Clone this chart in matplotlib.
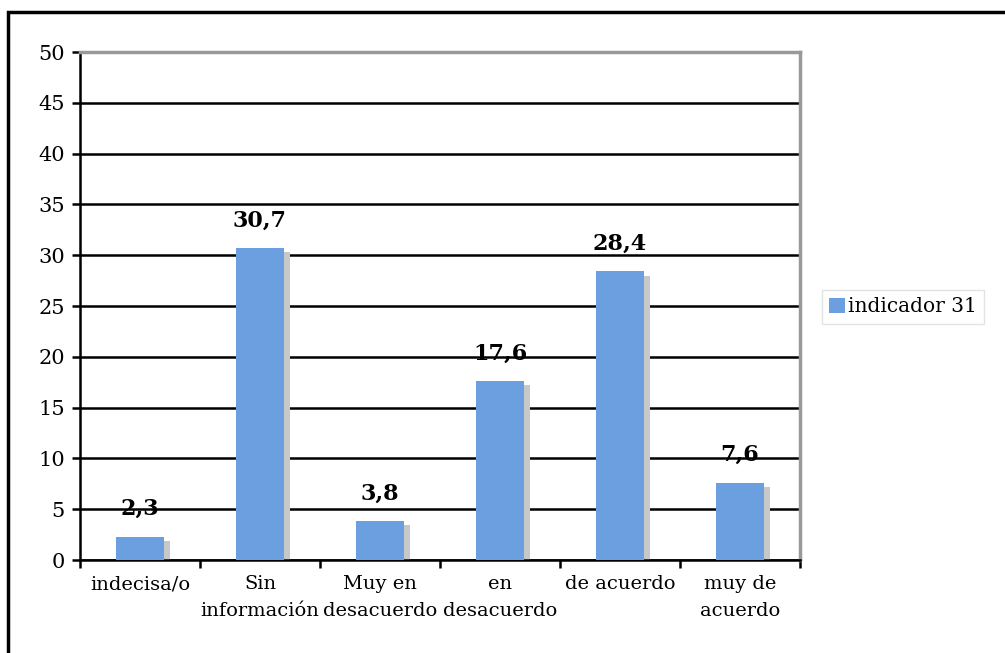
import numpy as np
import matplotlib
matplotlib.use('Agg')
import matplotlib.pyplot as plt
from matplotlib.patches import Rectangle, Patch

categories = ['indecisa/o', 'Sin\ninformación', 'Muy en\ndesacuerdo',
              'en\ndesacuerdo', 'de acuerdo', 'muy de\nacuerdo']
values = [2.3, 30.7, 3.8, 17.6, 28.4, 7.6]
value_labels = ['2,3', '30,7', '3,8', '17,6', '28,4', '7,6']
series_name = 'indicador 31'

plt.rcParams['font.family'] = ['DejaVu Serif']

bar_color = '#6b9fe0'
shadow_color = '#c8c8c8'

figure = plt.figure(figsize=(10.05, 6.53), dpi=100)
axis = figure.add_axes([80 / 1005, 1 - 560 / 653, 720 / 1005, 508 / 653])

x = np.arange(len(categories))
width = 0.4
# shadow behind the bars
axis.bar(x + 0.05, np.array(values) - 0.4, width=width, color=shadow_color, zorder=2)
axis.bar(x, values, width=width, color=bar_color, zorder=3)

for xi, v, lab in zip(x, values, value_labels):
    axis.annotate(lab, (xi, v), xytext=(0, 12), textcoords='offset points',
                  ha='center', va='bottom', fontsize=16, fontweight='bold')

axis.set_xlim(-0.5, len(categories) - 0.5)
axis.set_ylim(0, 50)
axis.set_yticks(np.arange(0, 51, 5))
axis.yaxis.grid(True, color='black', linewidth=1.8, zorder=1)
axis.set_axisbelow(True)

axis.set_xticks(x)
axis.set_xticklabels(categories, fontsize=14, linespacing=1.6)
axis.set_xticks(np.arange(-0.5, len(categories)), minor=True)
axis.tick_params(axis='x', which='major', length=0, pad=11)
axis.tick_params(axis='x', which='minor', length=6, width=1.8, direction='out')
axis.tick_params(axis='y', length=6, width=1.8, labelsize=15, pad=5)

axis.spines['left'].set_linewidth(1.8)
axis.spines['bottom'].set_linewidth(1.8)
axis.spines['top'].set_color('#999999')
axis.spines['top'].set_linewidth(2.5)
axis.spines['right'].set_color('#999999')
axis.spines['right'].set_linewidth(2.5)

handle = Patch(facecolor=bar_color, edgecolor='none')
legend = figure.legend([handle], [series_name], loc='center left',
                       bbox_to_anchor=(822 / 1005, 1 - 307 / 653),
                       fontsize=14.5, frameon=True, fancybox=False,
                       handlelength=0.8, handleheight=0.8, handletextpad=0.15,
                       borderpad=0.35, borderaxespad=0)
legend.get_frame().set_edgecolor('#dddddd')
legend.get_frame().set_linewidth(1)

# outer frame of the chart
figure.patches.append(Rectangle((8 / 1005, -0.05), 1.2, 1 - 12 / 653 + 0.05,
                                transform=figure.transFigure, fill=False,
                                edgecolor='black', linewidth=2.5))

figure.savefig('out.png', dpi=100)
